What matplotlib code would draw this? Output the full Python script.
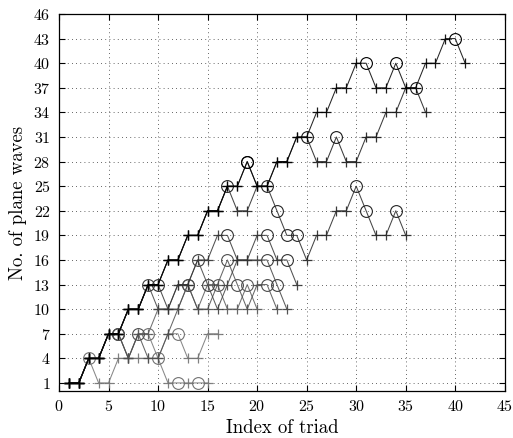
import matplotlib
matplotlib.use('Agg')
import matplotlib.pyplot as plt
import numpy as np

plt.rcParams['font.family'] = 'serif'
plt.rcParams['font.serif'] = ['cmr10', 'DejaVu Serif']
plt.rcParams['axes.formatter.use_mathtext'] = True

# number of plane waves per triad, one list per run (x = 1, 2, ...)
s1 = [1, 1, 4, 4, 7, 7, 10, 10, 13, 13, 16, 16, 19, 19, 22, 22, 25, 25, 28, 25, 25,
      28, 28, 31, 31, 34, 34, 37, 37, 40, 40, 37, 37, 40, 37, 37, 40, 40, 43, 43, 40]
s2 = [1, 1, 4, 4, 7, 7, 10, 10, 13, 13, 16, 16, 19, 19, 22, 22, 25, 25, 28, 25, 25,
      28, 28, 31, 31, 28, 28, 31, 28, 28, 31, 31, 34, 34, 37, 37, 34]
s3 = [1, 1, 4, 4, 7, 7, 10, 10, 13, 13, 16, 16, 19, 19, 22, 22, 25, 22, 22, 25, 25,
      22, 19, 19, 16, 19, 19, 22, 22, 25, 22, 19, 19, 22, 19]
s4 = [1, 1, 4, 4, 7, 7, 10, 10, 13, 13, 10, 13, 13, 16, 16, 19, 19, 16, 16, 19, 19,
      16, 16, 13]
s5 = [1, 1, 4, 4, 7, 7, 10, 10, 13, 10, 10, 13, 13, 16, 13, 10, 13, 16, 16, 16, 16,
      13, 10]
s6 = [1, 1, 4, 4, 7, 7, 4, 7, 4, 4, 7, 10, 13, 10, 10, 13, 16, 13, 10, 13, 13, 10]
s7 = [1, 1, 4, 4, 7, 7, 4, 7, 7, 10, 10, 10, 13, 10, 13, 13, 10, 10, 13, 10]
s8 = [1, 1, 4, 1, 1, 4, 4, 4, 4, 4, 7, 7, 4, 4, 7, 7]
s9 = [1, 1, 4, 4, 7, 7, 4, 7, 7, 4, 1, 1, 1, 1, 1]

# triads marked with a circle in each run (the rest get a plus)
c1 = [19, 31, 34, 40]
c2 = [19, 25, 28, 36]
c3 = [17, 21, 22, 23, 24, 30, 31, 34]
c4 = [10, 17, 21, 23]
c5 = [9, 14, 15, 21, 22]
c6 = [6, 8, 13, 17, 18, 21]
c7 = [6, 13, 16, 19]
c8 = [3, 12]
c9 = [6, 9, 10, 12, 14]

runs = [(s9, c9, '0.45'), (s8, c8, '0.45'), (s7, c7, '0.35'), (s6, c6, '0.3'),
        (s5, c5, '0.25'), (s4, c4, '0.2'), (s3, c3, '0.15'), (s2, c2, '0.1'),
        (s1, c1, '0.0')]

fig = plt.figure(figsize=(5.13, 4.38), dpi=100)
ax = fig.add_axes([0.115, 0.107, 0.869, 0.861])

for y, circ, col in runs:
    x = np.arange(1, len(y) + 1)
    y = np.array(y)
    is_c = np.isin(x, circ)
    ax.plot(x, y, '-', color=col, lw=0.75, alpha=0.85)
    ax.plot(x[~is_c], y[~is_c], '+', color=col, ms=7.5, mew=0.9, alpha=0.9)
    ax.plot(x[is_c], y[is_c], 'o', mfc='none', mec=col, ms=8.5, mew=0.8)

ax.set_xlim(0, 45)
ax.set_ylim(0, 46)
ax.set_xticks(np.arange(0, 46, 5))
ax.set_yticks(np.arange(1, 47, 3))
ax.grid(True, color='0.2', linestyle=(0, (1, 4)), linewidth=0.6)
ax.tick_params(direction='in', top=True, right=True, length=4, labelsize=11.5, pad=6)
for sp in ax.spines.values():
    sp.set_linewidth(0.9)
ax.set_xlabel('Index of triad', fontsize=13.5, labelpad=3)
ax.set_ylabel('No. of plane waves', fontsize=13.5, labelpad=4)

plt.savefig('out.png', dpi=100)
